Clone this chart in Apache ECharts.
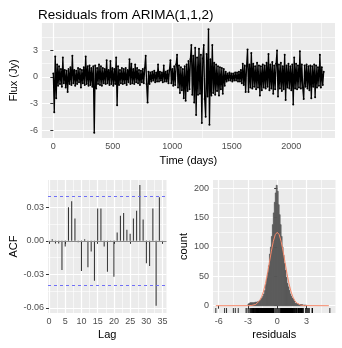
<!DOCTYPE html>
<html>
<head>
<meta charset="utf-8">
<script src="https://cdn.jsdelivr.net/npm/echarts@6/dist/echarts.min.js"></script>
<style>
html, body { margin: 0; padding: 0; background: #fff; }
#chart { width: 342px; height: 348px; }
</style>
</head>
<body>
<div id="chart"></div>
<script>
// residuals, one value every 8 days
var dayStep = 8
var flux = [
  0.4, -4.0, 2.3, -2.4, 1.4, -1.0, 1.2, -0.8, 0.9, -1.1, 2.2, -0.7, 0.8, -1.2, 0.7, -1.7, 0.9, -0.8, 1.1, -0.9, 2.4, -0.7, 0.8, -1.0, 0.7,
  -0.8, 1.0, -0.6, 0.9, -1.2, 0.8, -0.7, 1.1, -0.9, 2.3, -0.8, 1.2, -1.0, 1.3, -0.9, 1.0, -1.1, 1.2, -6.3, 1.3, -1.3, 1.0, -0.8, 1.4, -0.9,
  1.2, -1.0, 1.0, -0.7, 0.9, -0.8, 1.9, -0.7, 0.8, -0.9, 1.8, -0.8, 1.0, -1.0, 0.9, -0.8, 2.2, -3.2, 1.2, -0.9, 0.8, -0.7, 1.0, -0.8, 0.9,
  -0.7, 1.0, -0.9, 0.8, -0.6, 2.0, -0.8, 1.5, -0.7, 0.9, -0.8, 1.4, -0.6, 1.0, -0.7, 0.8, -0.9, 0.7, -0.6, 0.9, -0.7, 1.0, 2.4, -0.8, -2.9,
  0.6, -0.8, 0.5, -0.5, 0.6, -0.4, 0.7, -0.6, 0.5, -0.5, 1.4, -0.5, 0.6, -0.4, 0.5, -0.6, 1.3, -0.5, 0.6, -0.5, 0.7, -0.7, 0.8, 1.9, -0.7,
  0.9, -1.0, 1.2, -0.9, 1.4, 2.5, -1.2, 1.3, -1.8, 1.1, -1.5, 0.9, -2.4, 1.2, -2.7, 1.4, -1.6, 1.8, -1.4, 2.0, 3.6, -2.0, 2.4, -2.9, 3.3,
  -4.3, 2.2, -2.0, 3.2, -1.9, 2.5, -5.2, 2.1, 3.6, -2.5, -4.5, 2.6, -2.2, 5.4, -5.4, 2.0, -2.1, 3.6, -1.8, 1.6, -2.0, 1.4, -1.6, 1.2, -2.1,
  1.1, -1.4, 1.0, -1.9, 0.9, -1.0, 0.6, -0.5, 0.4, -0.4, 0.5, -0.4, 0.4, -0.5, 0.4, -0.4, 0.5, -0.4, 0.5, -0.5, 0.6, -0.5, 0.8, -0.7, 1.5,
  -0.9, 1.3, -1.7, 1.2, 3.1, -1.7, 1.4, -1.2, 2.7, -1.3, 1.5, -1.1, 1.2, -1.4, 1.6, -1.2, 1.3, -2.1, 1.2, -1.5, 1.4, -1.2, 1.3, -1.3, 1.6,
  -1.1, 2.6, -1.5, 1.4, -1.3, 1.7, -1.9, 1.3, -1.4, 1.5, 3.0, -2.2, 1.4, -1.3, 1.6, -1.6, 1.2, -1.4, 2.5, -2.6, 1.3, -1.2, 1.5, -1.3, 1.2,
  -1.5, 1.4, -3.1, 2.2, -1.3, 1.5, -1.4, 1.3, -1.2, 2.9, -1.3, 1.4, -1.2, -2.5, 1.3, -1.1, 1.4, -1.3, 1.2, -1.5, 1.3, -2.4, 1.2, -1.1, 1.4,
  -2.3, 1.3, -1.2, 1.1, -1.0, 2.5, -1.2, 1.1, -0.9, 0.6
]

// autocorrelation of the residuals
var acfLag = [1, 2, 3, 4, 5, 6, 7, 8, 9, 10, 11, 12, 13, 14, 15, 16, 17, 18, 19, 20, 21, 22, 23, 24, 25, 26, 27, 28, 29, 30, 31, 32, 33, 34]
var acfVal = [0.0015, -0.0024, -0.0024, -0.026, -0.005, 0.030, 0.0354, 0.020, -0.0012, -0.027, 0.0015, -0.0237, -0.0096, -0.0357,
  0.029, 0.029, -0.005, -0.0276, -0.0005, -0.032, 0.0075, 0.0225, 0.025, 0.010, 0.0063, 0.020, 0.027, 0.050, 0.019,
  -0.020, -0.0225, 0.029, -0.058, 0.039]
var ciLimit = 0.041

// histogram of residuals, bins of 0.1 starting at -3
var histStart = -3.0
var binWidth = 0.1
var histCount = [
  3, 4, 5, 5, 5, 5, 5, 6, 6, 6,
  7, 8, 9, 11, 13, 16, 20, 26, 36, 46,
  56, 68, 88, 100, 118, 138, 158, 176, 192, 205,
  195, 172, 155, 138, 118, 100, 86, 72, 60, 48,
  38, 32, 26, 20, 16, 13, 11, 8, 4, 4,
  3, 3, 2, 2, 2, 2, 1, 1, 1, 1
]

// normal curve drawn over the histogram
var curveX = [-6.3, -3.0, -2.8, -2.6, -2.4, -2.2, -2.0, -1.8, -1.6, -1.4, -1.2, -1.0, -0.8, -0.6, -0.4, -0.2, 0,
  0.2, 0.4, 0.6, 0.8, 1.0, 1.2, 1.4, 1.6, 1.8, 2.0, 2.2, 2.4, 2.6, 2.8, 3.0, 5.3]
var curveY = [0, 0.1, 0.2, 0.5, 1.1, 2.3, 4.7, 8.7, 15.2, 25, 38.3, 55, 73.9, 93, 109.6, 121, 125,
  121, 109.6, 93, 73.9, 55, 38.3, 25, 15.2, 8.7, 4.7, 2.3, 1.1, 0.5, 0.2, 0.1, 0]

var topXTicks = [0, 500, 1000, 1500, 2000]
var topXMinor = [250, 750, 1250, 1750, 2250]
var topYTicks = [-6, -3, 0, 3]
var topYMinor = [-4.5, -1.5, 1.5, 4.5]
var acfXTicks = [0, 5, 10, 15, 20, 25, 30, 35]
var acfXMinor = [2.5, 7.5, 12.5, 17.5, 22.5, 27.5, 32.5]
var acfYTicks = [-0.06, -0.03, 0, 0.03]
var acfYMinor = [-0.045, -0.015, 0.015, 0.045]
var histXTicks = [-6, -3, 0, 3]
var histXMinor = [-4.5, -1.5, 1.5, 4.5]
var histYTicks = [0, 50, 100, 150, 200]
var histYMinor = [25, 75, 125, 175]

var font = 'Liberation Sans, Arial, sans-serif'

function mainAxis(grid, min, max, ticks, name, nameGap, fmt) {
  return {
    type: 'value', gridIndex: grid, min: min, max: max,
    name: name, nameLocation: 'middle', nameGap: nameGap,
    nameTextStyle: { fontFamily: font, fontSize: 11, color: '#000' },
    axisLine: { show: false },
    axisTick: { show: true, length: 3, customValues: ticks, lineStyle: { color: '#333', width: 1 } },
    axisLabel: {
      customValues: ticks, fontFamily: font, fontSize: 9, color: '#4d4d4d', margin: 4,
      formatter: fmt || function(v) { return String(v) }
    },
    splitLine: { show: true, lineStyle: { color: '#fff', width: 1.2 } }
  }
}

function minorAxis(grid, min, max, ticks) {
  return {
    type: 'value', gridIndex: grid, min: min, max: max,
    axisLine: { show: false },
    axisTick: { show: false, customValues: ticks },
    axisLabel: { show: false, customValues: ticks },
    splitLine: { show: true, lineStyle: { color: '#fff', width: 0.6 } }
  }
}

var fluxData = flux.map(function(v, i) { return [i * dayStep, v] })
var acfData = acfLag.map(function(l, i) { return [l, acfVal[i]] })
var histData = histCount.map(function(c, i) {
  return [histStart + i * binWidth, histStart + (i + 1) * binWidth, c]
})
var curveData = curveX.map(function(x, i) { return [x, curveY[i]] })
var rugVals = flux.slice()
histCount.forEach(function(c, i) {
  if (c >= 5) rugVals.push(histStart + (i + 0.5) * binWidth)
})
var rugData = rugVals.map(function(v) { return [v] })

var myChart = echarts.init(document.getElementById('chart'))
var option = {
  animation: false,
  backgroundColor: '#fff',
  title: {
    text: 'Residuals from ARIMA(1,1,2)', left: 33, top: 3,
    textStyle: { fontFamily: font, fontSize: 13.5, fontWeight: 'normal', color: '#000' }
  },
  grid: [
    { left: 35, top: 23, width: 300, height: 115, backgroundColor: '#ebebeb', show: true, borderWidth: 0 },
    { left: 48, top: 180, width: 118.5, height: 133, backgroundColor: '#ebebeb', show: true, borderWidth: 0 },
    { left: 213, top: 180, width: 122.5, height: 133, backgroundColor: '#ebebeb', show: true, borderWidth: 0 }
  ],
  xAxis: [
    mainAxis(0, -96, 2367, topXTicks, 'Time (days)', 17),
    minorAxis(0, -96, 2367, topXMinor),
    mainAxis(1, -0.3, 36.2, acfXTicks, 'Lag', 16),
    minorAxis(1, -0.3, 36.2, acfXMinor),
    mainAxis(2, -6.59, 5.98, histXTicks, 'residuals', 16),
    minorAxis(2, -6.59, 5.98, histXMinor)
  ],
  yAxis: [
    mainAxis(0, -6.9, 6.1, topYTicks, 'Flux (Jy)', 17),
    minorAxis(0, -6.9, 6.1, topYMinor),
    mainAxis(1, -0.0645, 0.0544, acfYTicks, 'ACF', 29, function(v) { return v.toFixed(2) }),
    minorAxis(1, -0.0645, 0.0544, acfYMinor),
    mainAxis(2, -12.4, 214, histYTicks, 'count', 24),
    minorAxis(2, -12.4, 214, histYMinor)
  ],
  series: [
    {
      type: 'line', xAxisIndex: 0, yAxisIndex: 0, data: fluxData,
      symbol: 'circle', symbolSize: 2, showSymbol: true,
      itemStyle: { color: '#000' },
      lineStyle: { color: '#000', width: 1.3 }
    },
    {
      type: 'bar', xAxisIndex: 2, yAxisIndex: 2, data: acfData, barWidth: 1,
      itemStyle: { color: '#2b2b2b' },
      markLine: {
        silent: true, symbol: 'none', label: { show: false },
        data: [
          { yAxis: 0, lineStyle: { color: '#8a8a8a', type: 'solid', width: 1 } },
          { yAxis: ciLimit, lineStyle: { color: '#6f6ff5', type: [3, 3], width: 1 } },
          { yAxis: -ciLimit, lineStyle: { color: '#6f6ff5', type: [3, 3], width: 1 } }
        ]
      }
    },
    {
      type: 'custom', xAxisIndex: 4, yAxisIndex: 4, data: histData,
      encode: { x: [0, 1], y: 2 },
      renderItem: function(params, api) {
        var p0 = api.coord([api.value(0), api.value(2)])
        var p1 = api.coord([api.value(1), 0])
        return {
          type: 'rect',
          shape: { x: p0[0], y: p0[1], width: p1[0] - p0[0], height: p1[1] - p0[1] },
          style: { fill: '#595959', stroke: '#595959', lineWidth: 0.7 }
        }
      }
    },
    {
      type: 'custom', xAxisIndex: 4, yAxisIndex: 4, data: rugData,
      encode: { x: 0 },
      renderItem: function(params, api) {
        var p = api.coord([api.value(0), 0])
        var bottom = params.coordSys.y + params.coordSys.height
        return {
          type: 'line',
          shape: { x1: p[0], y1: bottom, x2: p[0], y2: bottom - 5 },
          style: { stroke: '#000', lineWidth: 0.8 }
        }
      }
    },
    {
      type: 'line', xAxisIndex: 4, yAxisIndex: 4, data: curveData,
      showSymbol: false, smooth: false,
      lineStyle: { color: '#f5896b', width: 1 }
    }
  ]
}
myChart.setOption(option)
</script>
</body>
</html>
